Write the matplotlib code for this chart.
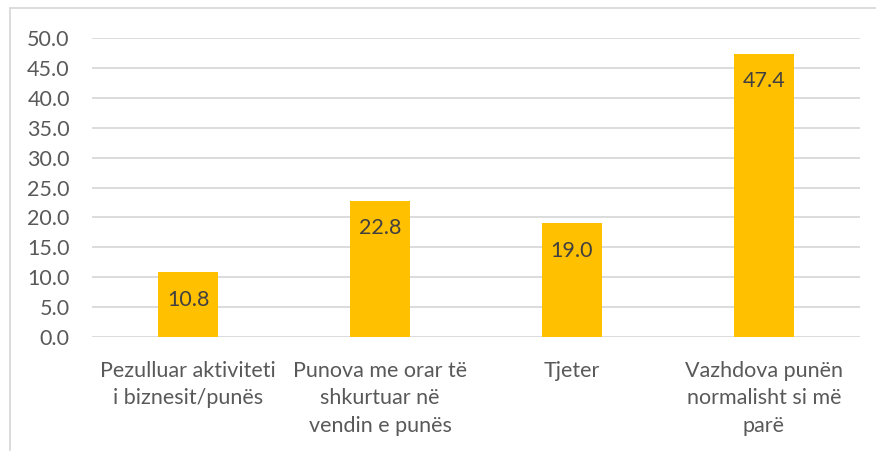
import matplotlib
matplotlib.use("Agg")
from matplotlib import pyplot as plt
from matplotlib.patches import Rectangle

categories = ["Pezulluar aktiviteti\ni biznesit/punës",
              "Punova me orar të\nshkurtuar në\nvendin e punës",
              "Tjeter",
              "Vazhdova punën\nnormalisht si më\nparë"]
values = [10.8, 22.8, 19.0, 47.4]
yticks = [0, 5, 10, 15, 20, 25, 30, 35, 40, 45, 50]

plt.rcParams['font.family'] = ['Lato', 'DejaVu Sans']
text_col = '#595959'
fs = 15.5

fig = plt.figure(figsize=(8.76, 4.51), dpi=100)
W, H = 876, 451
ax = fig.add_axes([92 / W, 1 - 337 / H, (860 - 92) / W, (337 - 38) / H])

x = list(range(len(categories)))
bars = ax.bar(x, values, width=0.3125, color='#FFC000', zorder=3)
for xi, v in zip(x, values):
    ax.annotate(f"{v:.1f}", (xi, v), xytext=(0, -20), textcoords='offset points',
                ha='center', va='center', fontsize=fs, color='#404040', zorder=4)

ax.set_xlim(-0.5, len(categories) - 0.5)
ax.set_ylim(0, 50)
ax.set_yticks(yticks)
ax.set_yticklabels([f"{t:.1f}" for t in yticks])
ax.set_xticks(x)
ax.set_xticklabels(categories, linespacing=1.48)
ax.tick_params(axis='y', length=0, pad=16, labelsize=fs, labelcolor=text_col)
ax.tick_params(axis='x', length=0, pad=17, labelsize=fs, labelcolor=text_col)
ax.grid(axis='y', color='#D9D9D9', linewidth=1.3, zorder=0)
for s in ax.spines.values():
    s.set_visible(False)

# outer chart frame
fig.patches.append(Rectangle((10 / W, -0.05), 1.1, 1 - 8 / H + 0.05,
                             transform=fig.transFigure, fill=False,
                             edgecolor='#D9D9D9', linewidth=1.3))

fig.savefig("out.png", dpi=100)
